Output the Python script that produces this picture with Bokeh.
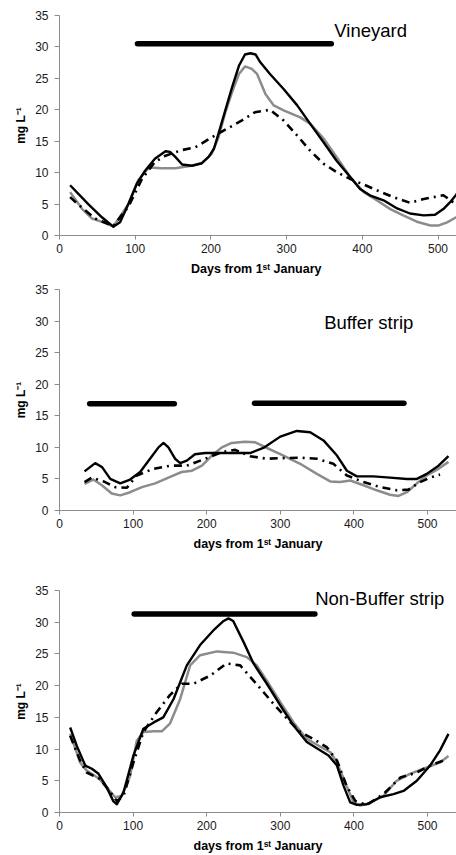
from bokeh.plotting import figure
from bokeh.layouts import column
from bokeh.models import Range1d, FixedTicker, Label
from bokeh.embed import file_html
from bokeh.resources import INLINE

# ---------------- data ----------------
# Panel 1: Vineyard
vin_black_x = [14, 38, 56, 71, 80, 91, 102, 113, 126, 140, 146, 153, 162, 175, 188, 197, 204, 210, 219, 228, 237, 245, 252, 259, 265, 278, 296, 314, 331, 349, 366, 384, 397, 410, 428, 446, 463, 481, 496, 507, 516, 524, 532]
vin_black_y = [8.0, 5.0, 2.9, 1.4, 2.1, 5.0, 8.2, 10.3, 12.2, 13.4, 13.3, 12.5, 11.3, 11.1, 11.5, 12.5, 13.8, 16.2, 19.9, 23.6, 27.0, 28.8, 29.0, 28.8, 27.6, 25.7, 23.3, 20.7, 17.8, 14.8, 11.9, 9.3, 7.4, 6.4, 5.6, 4.3, 3.5, 3.2, 3.3, 4.2, 5.3, 6.5, 8.0]
vin_grey_x = [14, 30, 43, 60, 71, 91, 104, 118, 135, 153, 170, 188, 201, 210, 219, 228, 237, 245, 254, 261, 272, 283, 296, 318, 331, 349, 366, 384, 402, 419, 437, 454, 472, 490, 501, 512, 524, 532]
vin_grey_y = [6.9, 4.2, 2.7, 2.0, 1.4, 5.0, 8.8, 10.8, 10.7, 10.7, 11.0, 11.5, 13.0, 15.6, 19.6, 22.8, 25.7, 26.9, 26.5, 25.7, 22.5, 20.7, 19.9, 18.8, 17.8, 15.4, 12.5, 9.3, 6.9, 5.6, 4.2, 3.2, 2.2, 1.6, 1.6, 2.1, 2.9, 3.4]
vin_dash_x = [14, 25, 47, 71, 91, 109, 126, 140, 162, 179, 201, 223, 241, 258, 278, 296, 314, 331, 349, 366, 384, 402, 419, 441, 463, 481, 507, 520, 532]
vin_dash_y = [6.1, 4.9, 2.7, 1.5, 4.6, 9.0, 11.7, 12.7, 13.6, 14.0, 15.6, 17.1, 18.3, 19.6, 20.0, 18.3, 15.9, 13.5, 11.4, 10.1, 9.0, 8.1, 7.2, 6.1, 5.2, 5.8, 6.4, 5.3, 4.6]
vin_bar_x = [103, 359]
vin_bar_y = [30.5, 30.5]

# Panel 2: Buffer strip
buf_black_x = [34, 48.5, 57.6, 69, 82.5, 96, 109.6, 123, 134.5, 141.3, 148, 157, 164, 173, 184, 198, 221, 243, 259, 277, 300, 322.5, 340.6, 358.7, 377, 390.5, 404, 426.6, 449, 472, 485.6, 499, 515, 528.5]
buf_black_y = [6.2, 7.5, 6.9, 5.0, 4.3, 4.9, 6.1, 8.2, 10.0, 10.7, 10.0, 8.2, 7.5, 7.9, 8.9, 9.1, 9.1, 9.1, 9.1, 9.9, 11.7, 12.6, 12.4, 11.1, 8.7, 6.3, 5.4, 5.4, 5.2, 5.0, 5.0, 5.8, 7.1, 8.6]
buf_grey_x = [34, 46, 57.6, 71, 82.5, 96, 112, 130, 148, 166, 180, 193.5, 207, 220.6, 234, 252, 266, 281.8, 304.3, 327, 349.7, 367.8, 381.4, 395, 413, 431, 449, 460.6, 472, 485.6, 499, 515, 528.5]
buf_grey_y = [4.2, 4.9, 4.0, 2.7, 2.4, 2.9, 3.7, 4.3, 5.2, 6.1, 6.3, 7.1, 8.7, 10.0, 10.7, 10.9, 10.8, 9.9, 8.7, 7.4, 5.8, 4.6, 4.5, 4.75, 4.0, 3.2, 2.5, 2.3, 2.9, 4.3, 5.55, 6.6, 7.7]
buf_dash_x = [34, 44, 60, 75.7, 91.6, 105, 127.7, 150.4, 173, 198, 220.6, 238.7, 259, 281.8, 304.3, 327, 349.7, 372, 390.5, 413, 435.7, 458.4, 474, 490, 503.7, 517]
buf_dash_y = [4.5, 5.2, 4.6, 3.7, 3.6, 5.55, 6.6, 7.1, 7.1, 8.2, 9.25, 9.6, 8.6, 8.2, 8.3, 8.35, 8.2, 7.4, 5.55, 4.5, 3.7, 3.2, 3.3, 4.5, 5.2, 5.7]
buf_bar1_x = [41, 156]
buf_bar1_y = [16.9, 16.9]
buf_bar2_x = [265, 468]
buf_bar2_y = [17.0, 17.0]

# Panel 3: Non-Buffer strip
non_black_x = [14.5, 23.5, 35, 44, 53, 64, 73, 78, 87, 100.5, 114, 128, 141, 155, 173, 191, 209, 223, 229.6, 236, 250, 263.6, 281.7, 300, 318, 336, 354, 365.5, 377, 386, 395, 404, 417.6, 435.7, 453.8, 467.4, 485.5, 503.6, 517, 528.5]
non_black_y = [13.4, 10.5, 7.4, 6.9, 6.1, 4.0, 1.8, 1.3, 3.2, 9.0, 13.2, 14.2, 15.0, 17.9, 23.2, 26.4, 28.7, 30.2, 30.6, 30.2, 26.9, 23.5, 20.3, 16.9, 13.7, 11.1, 9.8, 9.0, 7.4, 4.2, 1.6, 1.2, 1.3, 2.4, 2.9, 3.4, 5.0, 7.4, 9.8, 12.4]
non_grey_x = [14.5, 28, 37, 53, 64, 75.6, 84.7, 96, 105, 114, 128, 139, 150, 164, 177.5, 191, 214, 236, 254.5, 268, 281.7, 300, 318, 336, 354, 368, 377, 390, 399.5, 408.5, 422, 440, 458, 476, 499, 517, 528.5]
non_grey_y = [12.4, 7.9, 6.6, 5.4, 4.0, 2.4, 2.6, 5.8, 11.3, 12.7, 12.8, 12.8, 14.0, 17.9, 23.2, 24.8, 25.4, 25.2, 24.5, 23.2, 20.8, 17.4, 14.2, 11.6, 10.4, 9.5, 7.9, 4.2, 1.6, 1.1, 1.5, 2.6, 5.0, 6.1, 7.1, 7.9, 8.9]
non_dash_x = [14.5, 28, 37, 55, 69, 78, 87, 100.5, 114, 132, 150, 166, 182, 205, 227, 245.5, 263.6, 277, 291, 309, 327, 345, 363, 377, 390, 402, 417.6, 440, 463, 485.5, 503.6, 521.6]
non_dash_y = [12.1, 8.2, 6.3, 5.3, 3.2, 1.8, 2.6, 7.9, 12.7, 15.8, 18.5, 20.3, 20.3, 21.6, 23.5, 23.2, 20.8, 19.0, 17.1, 14.8, 12.7, 11.6, 10.3, 8.2, 4.2, 1.8, 1.2, 2.9, 5.5, 6.3, 7.4, 8.2]
non_bar_x = [101.5, 347]
non_bar_y = [31.3, 31.3]

x_ticks = [0, 100, 200, 300, 400, 500]
y_ticks = [0, 5, 10, 15, 20, 25, 30, 35]

FONT = "Liberation Sans"
GREY = "#8c8c8c"
DASH = "8 5 2 5"


def make_panel(xmax, height, top, bottom, xtitle):
    p = figure(width=456, height=height, x_range=Range1d(0, xmax), y_range=Range1d(0, 35),
               output_backend="svg", toolbar_location=None,
               min_border_left=59, min_border_right=0,
               min_border_top=top, min_border_bottom=bottom)
    p.outline_line_color = None
    p.grid.visible = False
    p.background_fill_color = "white"
    p.border_fill_color = "white"
    p.xaxis.ticker = FixedTicker(ticks=x_ticks)
    p.yaxis.ticker = FixedTicker(ticks=y_ticks)
    for ax in (p.xaxis[0], p.yaxis[0]):
        ax.axis_line_color = GREY
        ax.axis_line_width = 1
        ax.major_tick_line_color = GREY
        ax.minor_tick_line_color = None
        ax.major_tick_in = 0
        ax.major_label_text_font = FONT
        ax.major_label_text_font_size = "12px"
        ax.major_label_text_color = "#1a1a1a"
        ax.axis_label_text_font = FONT
        ax.axis_label_text_font_style = "bold"
        ax.axis_label_text_color = "black"
    p.xaxis.major_tick_out = 4
    p.yaxis.major_tick_out = 5
    p.xaxis.major_label_standoff = 4
    p.yaxis.major_label_standoff = 6
    p.xaxis.axis_label = xtitle
    p.xaxis.axis_label_text_font_size = "12.5px"
    p.xaxis.axis_label_standoff = 6
    p.yaxis.axis_label = "mg L\u207b\u00b9"
    p.yaxis.axis_label_text_font_size = "12px"
    p.yaxis.axis_label_standoff = 4
    return p


def add_series(p, bx, by, gx, gy, dx, dy):
    p.line(gx, gy, line_color=GREY, line_width=2.5, line_join="round")
    p.line(dx, dy, line_color="black", line_width=2.6, line_dash=DASH, line_join="round")
    p.line(bx, by, line_color="black", line_width=2.4, line_join="round")


def add_bar(p, bx, by):
    p.line(bx, by, line_color="black", line_width=5.5, line_cap="round")


p1 = make_panel(524.4, 282, 15, 47, "Days from 1\u02e2\u1d57  January")
add_series(p1, vin_black_x, vin_black_y, vin_grey_x, vin_grey_y, vin_dash_x, vin_dash_y)
add_bar(p1, vin_bar_x, vin_bar_y)
p1.add_layout(Label(x=363, y=32.6, text="Vineyard", text_font=FONT, text_font_size="18.5px",
                    text_baseline="middle", text_align="left", text_color="black"))

p2 = make_panel(539.4, 280, 7, 52, "days from 1\u02e2\u1d57 January")
add_series(p2, buf_black_x, buf_black_y, buf_grey_x, buf_grey_y, buf_dash_x, buf_dash_y)
add_bar(p2, buf_bar1_x, buf_bar1_y)
add_bar(p2, buf_bar2_x, buf_bar2_y)
p2.add_layout(Label(x=359.6, y=29.7, text="Buffer strip", text_font=FONT, text_font_size="18.5px",
                    text_baseline="middle", text_align="left", text_color="black"))

p3 = make_panel(539.4, 293, 28, 43, "days from 1\u02e2\u1d57 January")
add_series(p3, non_black_x, non_black_y, non_grey_x, non_grey_y, non_dash_x, non_dash_y)
add_bar(p3, non_bar_x, non_bar_y)
p3.add_layout(Label(x=347.4, y=33.7, text="Non-Buffer strip", text_font=FONT, text_font_size="18.5px",
                    text_baseline="middle", text_align="left", text_color="black"))

layout = column(p1, p2, p3, spacing=0)
open("out.html", "w").write(file_html(layout, INLINE))
